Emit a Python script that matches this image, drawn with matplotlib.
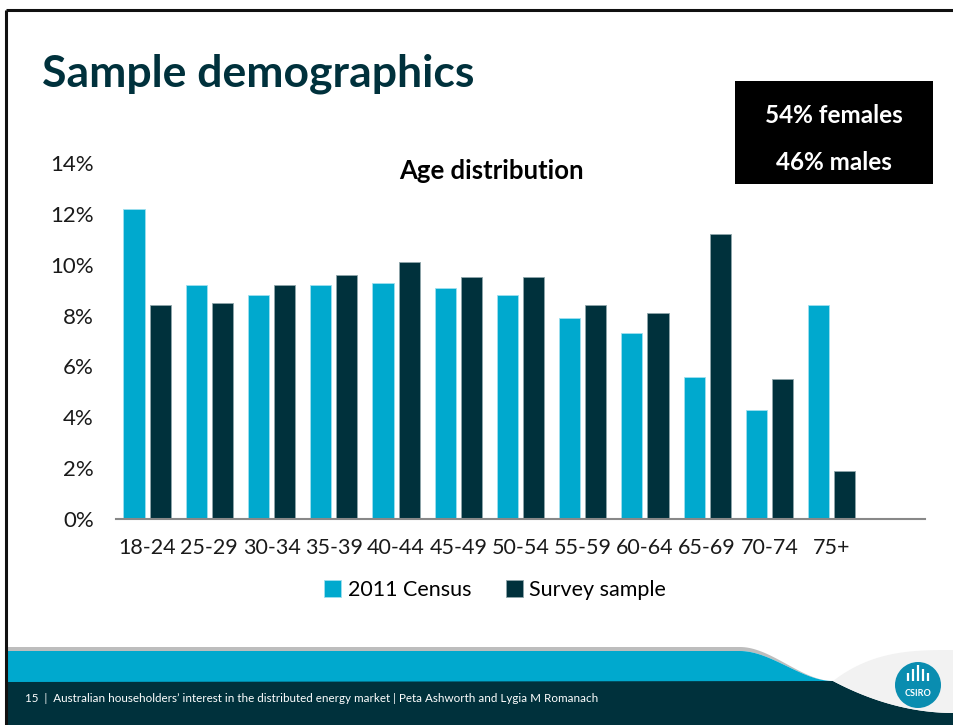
import matplotlib
matplotlib.use("Agg")
import matplotlib.pyplot as plt
import numpy as np
from matplotlib.patches import Rectangle, Polygon, Circle

plt.rcParams['font.family'] = ['Lato', 'DejaVu Sans']

# data
age_groups = ["18-24", "25-29", "30-34", "35-39", "40-44", "45-49",
              "50-54", "55-59", "60-64", "65-69", "70-74", "75+"]
census_2011 = [12.2, 9.2, 8.8, 9.2, 9.3, 9.1, 8.8, 7.9, 7.3, 5.6, 4.3, 8.4]
survey_sample = [8.4, 8.5, 9.2, 9.6, 10.1, 9.5, 9.5, 8.4, 8.1, 11.2, 5.5, 1.9]
y_ticks = [0, 2, 4, 6, 8, 10, 12, 14]

CYAN = "#00a9ce"
DARK = "#00313c"

W, H = 954, 725
fig = plt.figure(figsize=(W / 100, H / 100), dpi=100)

# background / slide decoration in pixel coordinates
bg = fig.add_axes([0, 0, 1, 1], zorder=0)
bg.set_xlim(0, W)
bg.set_ylim(H, 0)
bg.axis("off")

# slide frame
bg.plot([6.5, W], [9.5, 9.5], color="#111111", lw=2.2, solid_capstyle="butt")
bg.plot([6.5, 6.5], [9.5, H], color="#111111", lw=2.2, solid_capstyle="butt")

# footer bands
def smooth(t):
    return t * t * (3 - 2 * t)

xs = np.linspace(740, 833, 40)
grey_top = 647 + 34 * smooth((xs - 740) / 93)
cyan_top = 651 + 30 * smooth((xs - 740) / 93)
grey_poly = [(8, 647)] + list(zip(xs, grey_top)) + list(zip(xs[::-1], cyan_top[::-1])) + [(8, 651)]
bg.add_patch(Polygon(grey_poly, closed=True, color="#bdbdbd", lw=0))
cyan_poly = [(8, 651)] + list(zip(xs, cyan_top)) + [(833, 682), (8, 682)]
bg.add_patch(Polygon(cyan_poly, closed=True, color=CYAN, lw=0))

xr = np.linspace(833, W, 50)
t = (xr - 833) / (W - 833)
low_curve = 681 + 32 * (1 - (1 - t) ** 2)
up_curve = 681 - 31 * (1 - (1 - t) ** 3)
dark_poly = [(8, 682)] + list(zip(xr, low_curve)) + [(W, H), (8, H)]
bg.add_patch(Polygon(dark_poly, closed=True, color=DARK, lw=0))
swoosh = list(zip(xr, up_curve)) + list(zip(xr[::-1], low_curve[::-1]))
bg.add_patch(Polygon(swoosh, closed=True, color="#f2f2f2", lw=0))

# CSIRO logo
bg.add_patch(Circle((918, 685), 23, color="#0a8db0", lw=0))
for bx, bh in zip([908, 913, 918, 923, 928], [8, 12, 16, 12, 8]):
    bg.plot([bx, bx], [681, 681 - bh], color="white", lw=1.6, solid_capstyle="butt")
bg.text(918, 693, "CSIRO", color="white", fontsize=6.5, fontweight="bold",
        ha="center", va="center")

bg.text(25, 698, "15  |  Australian householders\u2019 interest in the distributed energy market | Peta Ashworth and Lygia M Romanach",
        color="white", fontsize=8.4, ha="left", va="center")

# slide title
bg.text(42, 86, "Sample demographics", color=DARK, fontsize=32,
        fontweight="bold", ha="left", va="baseline")

# gender box
bg.add_patch(Rectangle((735, 81), 198, 103, color="black", lw=0))
bg.text(834, 115, "54% females", color="white", fontsize=17.5, fontweight="bold",
        ha="center", va="center")
bg.text(834, 162, "46% males", color="white", fontsize=17.5, fontweight="bold",
        ha="center", va="center")

# chart
ax = fig.add_axes([116 / W, 1 - 519 / H, (925 - 116) / W, (519 - 163) / H], zorder=2)
ax.patch.set_alpha(0)
x = np.arange(len(age_groups))
bw = 0.34
ax.bar(x - 0.21, census_2011, bw, color=CYAN, edgecolor="#9fe0ef", lw=0.6, label="2011 Census")
ax.bar(x + 0.21, survey_sample, bw, color=DARK, edgecolor="#8fa6ab", lw=0.6, label="Survey sample")

ax.set_xlim(-0.5, len(age_groups) + 0.5)
ax.set_ylim(0, 14)
ax.set_yticks(y_ticks)
ax.set_yticklabels([f"{v}%" for v in y_ticks])
ax.set_xticks(x)
ax.set_xticklabels(age_groups)
ax.tick_params(axis="both", length=0, colors="#1a1a1a")
ax.tick_params(axis="y", pad=16, labelsize=16)
ax.tick_params(axis="x", pad=14, labelsize=15.5)
for s in ["top", "right", "left"]:
    ax.spines[s].set_visible(False)
ax.spines["bottom"].set_color("#888888")
ax.spines["bottom"].set_linewidth(1.5)

bg.text(491, 171, "Age distribution", color="black", fontsize=18.5,
        fontweight="bold", ha="center", va="center")

ax.legend(loc="center", bbox_to_anchor=(495 / W, 1 - 590 / H),
          bbox_transform=fig.transFigure, ncol=2, frameon=False,
          fontsize=15.5, handlelength=0.8, handleheight=0.8,
          handletextpad=0.3, columnspacing=1.6)

fig.savefig("out.png", dpi=100)
